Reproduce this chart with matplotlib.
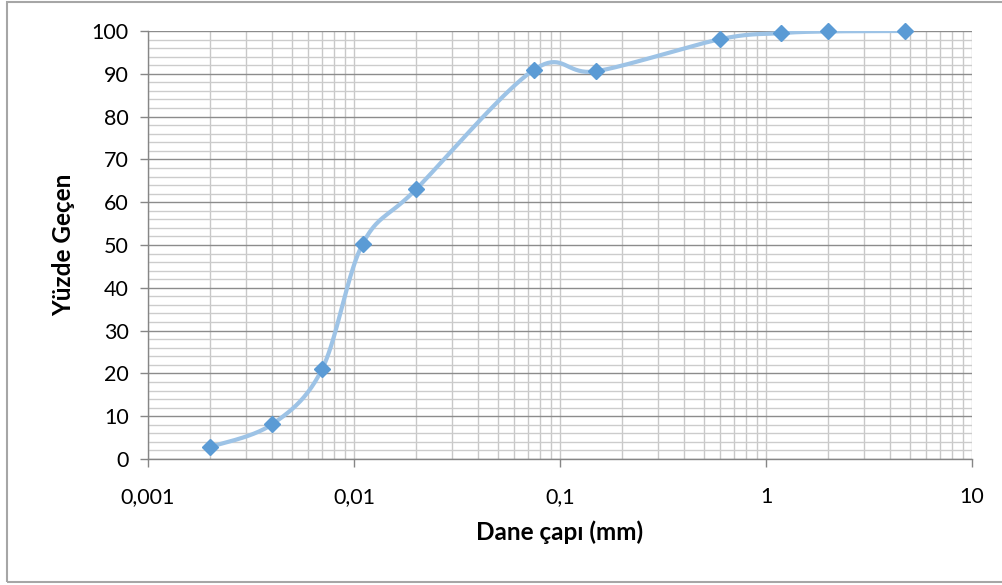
import numpy as np
import matplotlib
matplotlib.use("Agg")
import matplotlib.pyplot as plt
from matplotlib.ticker import FixedLocator, NullFormatter, FuncFormatter
from matplotlib.patches import Rectangle

plt.rcParams['font.family'] = ['Lato', 'DejaVu Sans']

# sieve / hydrometer results
dane_capi = [0.002, 0.004, 0.007, 0.011, 0.02, 0.075, 0.15, 0.6, 1.18, 2.0, 4.75]
yuzde_gecen = [2.8, 8.1, 21.0, 50.2, 63.0, 91.0, 90.6, 98.1, 99.5, 99.9, 100.0]
x_etiket = {0.001: '0,001', 0.01: '0,01', 0.1: '0,1', 1: '1', 10: '10'}


def smooth_curve(xs, ys, n=40):
    # excel-like smoothed line: catmull-rom bezier in (log x, y)
    lx = np.log10(xs)
    y = np.array(ys, dtype=float)
    px = np.concatenate([[lx[0]], lx, [lx[-1]]])
    py = np.concatenate([[y[0]], y, [y[-1]]])
    outx, outy = [], []
    t = np.linspace(0, 1, n)
    for i in range(1, len(px) - 2):
        p0 = np.array([px[i], py[i]])
        p3 = np.array([px[i + 1], py[i + 1]])
        c1 = p0 + (p3 - np.array([px[i - 1], py[i - 1]])) / 6
        c2 = p3 - (np.array([px[i + 2], py[i + 2]]) - p0) / 6
        b = ((1 - t) ** 3)[:, None] * p0 + (3 * (1 - t) ** 2 * t)[:, None] * c1 \
            + (3 * (1 - t) * t ** 2)[:, None] * c2 + (t ** 3)[:, None] * p3
        outx.extend(b[:, 0])
        outy.extend(b[:, 1])
    return 10 ** np.array(outx), np.array(outy)


fig = plt.figure(figsize=(10.03, 5.85), dpi=100)
ax = fig.add_axes([148 / 1003, 1 - 459 / 585, (972 - 148) / 1003, (459 - 31) / 585])

ax.set_xscale('log')
ax.set_xlim(0.001, 10)
ax.set_ylim(0, 100)

ax.xaxis.set_major_locator(FixedLocator([0.001, 0.01, 0.1, 1, 10]))
minors = [m * 10.0 ** e for e in range(-3, 1) for m in range(2, 10)]
ax.xaxis.set_minor_locator(FixedLocator(minors))
ax.xaxis.set_minor_formatter(NullFormatter())
ax.xaxis.set_major_formatter(FuncFormatter(lambda v, p: x_etiket.get(round(v, 3), '')))
ax.yaxis.set_major_locator(FixedLocator(np.arange(0, 101, 10)))
ax.yaxis.set_minor_locator(FixedLocator(np.arange(0, 101, 2)))

ax.grid(which='major', axis='y', color='#8c8c8c', linewidth=1.0)
ax.grid(which='minor', axis='y', color='#cccccc', linewidth=1.0)
ax.grid(which='both', axis='x', color='#c8c8c8', linewidth=1.0)
ax.set_axisbelow(True)

for s in ['top', 'right']:
    ax.spines[s].set_visible(False)
for s in ['left', 'bottom']:
    ax.spines[s].set_color('#868686')
    ax.spines[s].set_linewidth(1.0)

ax.tick_params(which='major', length=6, width=1, color='#868686', labelsize=15.5, direction='out')
ax.tick_params(which='minor', length=0)
ax.tick_params(axis='y', pad=8)
ax.tick_params(axis='x', pad=14)

sx, sy = smooth_curve(dane_capi, yuzde_gecen)
ax.plot(sx, sy, color='#9dc3e6', linewidth=3, solid_capstyle='round', zorder=3)
ax.plot(dane_capi, yuzde_gecen, linestyle='none', marker='D', markersize=8,
        color='#5b9bd5', markeredgecolor='#5b9bd5', zorder=4, clip_on=False)

ax.set_xlabel('Dane çapı (mm)', fontsize=17.5, fontweight='bold', labelpad=10)
ax.set_ylabel('Yüzde Geçen', fontsize=17.5, fontweight='bold', labelpad=12)

fig.patches.append(Rectangle((7 / 1003, 3 / 585), 1.0, 1 - 5 / 585, transform=fig.transFigure,
                             fill=False, edgecolor='#a6a6a6', linewidth=1.5))

fig.savefig('out.png', dpi=100)
